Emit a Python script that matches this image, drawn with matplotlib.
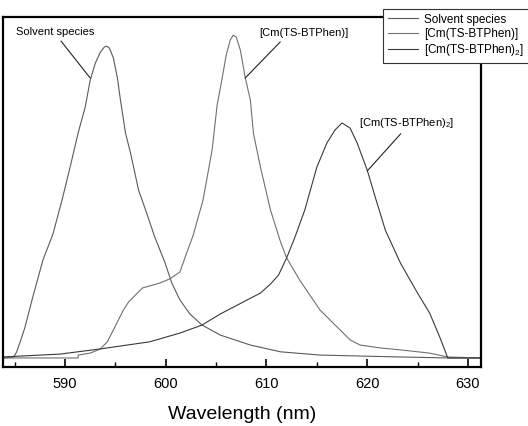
import matplotlib
matplotlib.use("Agg")
import matplotlib.pyplot as plt
from matplotlib.ticker import MultipleLocator

plt.rcParams['font.family'] = ['Liberation Sans', 'DejaVu Sans']
plt.rcParams['mathtext.fontset'] = 'custom'
plt.rcParams['mathtext.rm'] = 'Liberation Sans'
plt.rcParams['mathtext.it'] = 'Liberation Sans'

# solvent species
solv_wl = [583.8, 584.9, 585.2, 585.5, 586.0, 586.8, 587.8, 588.8, 589.7, 590.5,
           591.3, 592.0, 592.5, 593.0, 593.5, 593.9, 594.1, 594.4, 594.8, 595.2,
           595.5, 596.0, 596.5, 597.3, 598.1, 598.9, 599.9, 600.6, 601.4, 602.4,
           603.6, 605.4, 608.4, 611.4, 615.3, 619.3, 623.3, 628.2, 631.3]
solv_int = [0.0, 0.003, 0.019, 0.046, 0.093, 0.189, 0.303, 0.384, 0.489, 0.591,
            0.697, 0.777, 0.861, 0.913, 0.947, 0.963, 0.966, 0.960, 0.929, 0.867,
            0.799, 0.697, 0.635, 0.520, 0.449, 0.375, 0.297, 0.232, 0.180, 0.136,
            0.102, 0.071, 0.040, 0.019, 0.009, 0.006, 0.003, 0.0, 0.0]

# [Cm(TS-BTPhen)]
cm1_wl = [583.8, 591.3, 591.3, 592.5, 593.5, 594.2, 594.8, 595.3, 595.8, 596.3,
          596.8, 597.7, 598.4, 599.4, 600.4, 601.4, 602.0, 602.7, 603.7, 604.6,
          605.1, 605.6, 606.0, 606.4, 606.7, 607.0, 607.4, 607.9, 608.4, 608.7,
          609.4, 610.4, 611.4, 612.0, 613.3, 615.3, 617.3, 618.3, 619.3, 621.3,
          623.3, 626.2, 628.0, 631.3]
cm1_int = [0.0, 0.0, 0.009, 0.015, 0.028, 0.050, 0.087, 0.118, 0.149, 0.173,
           0.189, 0.217, 0.223, 0.232, 0.245, 0.266, 0.319, 0.378, 0.489, 0.644,
           0.783, 0.867, 0.938, 0.985, 1.0, 0.994, 0.954, 0.867, 0.799, 0.697,
           0.591, 0.458, 0.359, 0.310, 0.241, 0.149, 0.087, 0.056, 0.040, 0.031,
           0.025, 0.015, 0.003, 0.0]

# [Cm(TS-BTPhen)2]
cm2_wl = [583.8, 589.5, 593.5, 598.4, 601.4, 603.6, 605.4, 608.1, 609.4, 610.4,
          611.2, 612.0, 612.8, 613.8, 615.0, 616.0, 616.8, 617.5, 618.3, 619.0,
          620.0, 620.8, 621.8, 623.3, 625.0, 626.2, 627.2, 628.0, 631.3]
cm2_int = [0.003, 0.012, 0.028, 0.050, 0.077, 0.102, 0.136, 0.180, 0.201, 0.229,
           0.257, 0.310, 0.372, 0.458, 0.591, 0.666, 0.706, 0.728, 0.712, 0.666,
           0.582, 0.498, 0.396, 0.294, 0.201, 0.139, 0.065, 0.0, 0.0]

labels = ['Solvent species', '[Cm(TS-BTPhen)]', '[Cm(TS-BTPhen)$_2$]']

fig = plt.figure(figsize=(5.28, 4.26), dpi=100)
ax = fig.add_axes([0.0057, 0.1385, 0.9053, 0.8215])

h1, = ax.plot(solv_wl, solv_int, color='#5a5a5a', lw=0.8)
h2, = ax.plot(cm1_wl, cm1_int, color='#707070', lw=0.8)
h3, = ax.plot(cm2_wl, cm2_int, color='#3a3a3a', lw=0.8)

ax.set_xlim(583.84, 631.3)
ax.set_ylim(-0.028, 1.056)
ax.xaxis.set_major_locator(MultipleLocator(10))
ax.xaxis.set_minor_locator(MultipleLocator(5))
ax.tick_params(axis='x', which='major', direction='in', length=6, width=1.2,
               labelsize=10.5, pad=7)
ax.tick_params(axis='x', which='minor', direction='in', length=3.5, width=1.0)
ax.set_yticks([])
for s in ax.spines.values():
    s.set_linewidth(1.6)
ax.set_xlabel('Wavelength (nm)', fontsize=14, labelpad=11)

arr = dict(arrowstyle='-', color='#222222', lw=0.8, shrinkA=1, shrinkB=0)
ax.annotate(labels[0], xy=(592.5, 0.867), xytext=(589.06, 1.009),
            ha='center', va='center', fontsize=8,
            arrowprops=dict(arr, relpos=(0.53, 0)))
ax.annotate(labels[1], xy=(607.88, 0.867), xytext=(613.68, 1.006),
            ha='center', va='center', fontsize=8,
            arrowprops=dict(arr, relpos=(0.28, 0)))
ax.annotate(labels[2], xy=(620.0, 0.579), xytext=(623.86, 0.728),
            ha='center', va='center', fontsize=8,
            arrowprops=dict(arr, relpos=(0.48, 0)))

leg = fig.legend([h1, h2, h3], labels, loc='lower left',
                 bbox_to_anchor=(0.725, 1 - 63 / 426), fontsize=8.5, frameon=True,
                 fancybox=False, edgecolor='#333333', framealpha=1,
                 handlelength=2.6, handletextpad=0.5, labelspacing=0.2,
                 borderpad=0.4, borderaxespad=0)
leg.get_frame().set_linewidth(0.8)

fig.savefig('out.png', dpi=100)
